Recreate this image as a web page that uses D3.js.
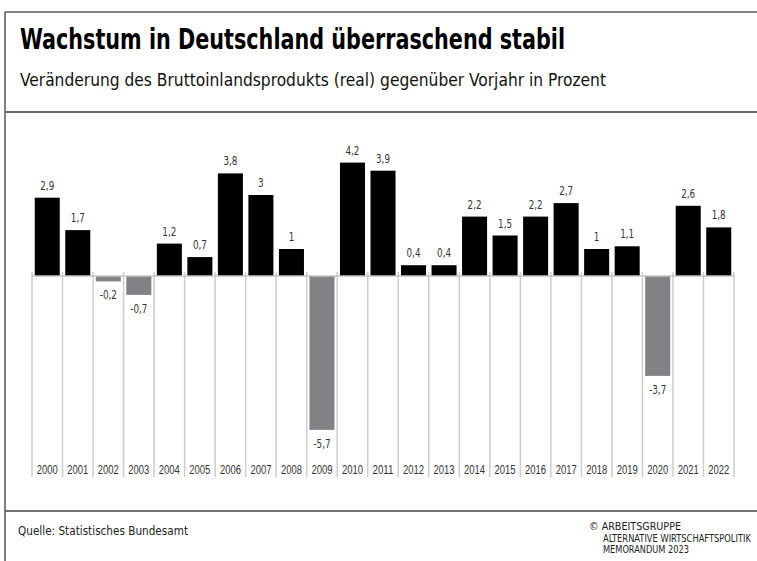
<!DOCTYPE html>
<html>
<head>
<meta charset="utf-8">
<script src="https://cdn.jsdelivr.net/npm/d3@7"></script>
<style>
  html, body { margin: 0; padding: 0; background: #fff; }
  svg { display: block; font-family: "Liberation Sans Narrow", "DejaVu Sans Condensed", "Roboto", sans-serif; }
</style>
</head>
<body>
<div id="chart"></div>
<script>
// daten
const years = ['2000', '2001', '2002', '2003', '2004', '2005', '2006', '2007', '2008', '2009', '2010', '2011',
  '2012', '2013', '2014', '2015', '2016', '2017', '2018', '2019', '2020', '2021', '2022'];
const values = [2.9, 1.7, -0.2, -0.7, 1.2, 0.7, 3.8, 3, 1, -5.7, 4.2, 3.9,
  0.4, 0.4, 2.2, 1.5, 2.2, 2.7, 1, 1.1, -3.7, 2.6, 1.8];
const yearLabels = years.slice();

const title = 'Wachstum in Deutschland überraschend stabil';
const subtitle = 'Veränderung des Bruttoinlandsprodukts (real) gegenüber Vorjahr in Prozent';
const source = 'Quelle: Statistisches Bundesamt';
const credit = ['© ARBEITSGRUPPE', 'ALTERNATIVE WIRTSCHAFTSPOLITIK', 'MEMORANDUM 2023'];

const width = 757;
const height = 561;

const svg = d3.select('#chart').append('svg')
  .attr('width', width)
  .attr('height', height);

svg.append('rect').attr('width', width).attr('height', height).attr('fill', '#fff');

// rahmen
const frame = svg.append('g').attr('stroke', '#555').attr('stroke-width', 1.5);
frame.append('line').attr('x1', 5).attr('x2', width).attr('y1', 12).attr('y2', 12);
frame.append('line').attr('x1', 5).attr('x2', 5).attr('y1', 12).attr('y2', height);
frame.append('line').attr('x1', 5).attr('x2', width).attr('y1', 112).attr('y2', 112).attr('stroke', '#666').attr('stroke-width', 2);
frame.append('line').attr('x1', 5).attr('x2', width).attr('y1', 511).attr('y2', 511).attr('stroke', '#444').attr('stroke-width', 1.5);

// text mit fester breite
function fitText(sel, w) {
  sel.attr('textLength', w).attr('lengthAdjust', 'spacingAndGlyphs');
  return sel;
}
// schmaler machen (kein narrow font da)
function condense(sel, k) {
  sel.each(function () {
    const w = this.getComputedTextLength();
    d3.select(this).attr('textLength', w * k).attr('lengthAdjust', 'spacingAndGlyphs');
  });
  return sel;
}
// per transform auf breite bringen
function scaledText(parent, x, y, str, w, size) {
  const gg = parent.append('g');
  const t = gg.append('text').attr('font-size', size).text(str);
  const k = w / t.node().getComputedTextLength();
  gg.attr('transform', `translate(${x},${y}) scale(${k},1)`);
  return t;
}

fitText(svg.append('text')
  .attr('x', 20).attr('y', 49)
  .attr('font-size', 29)
  .attr('font-weight', 'bold')
  .attr('fill', '#000')
  .text(title), 545);

fitText(svg.append('text')
  .attr('x', 20).attr('y', 86)
  .attr('font-size', 18)
  .attr('fill', '#111')
  .text(subtitle), 586);

// skalen
const grid = d3.scaleBand().domain(years).range([32, 734]).padding(0);
const x = d3.scaleBand().domain(years).range([32, 734]).paddingInner(0.18).paddingOuter(0.09);
const y = d3.scaleLinear().domain([-7, 6]).range([465, 114]);
const y0 = y(0);

const g = svg.append('g');

// gitterlinien
const gridPos = years.map(d => grid(d)).concat([grid.range()[1]]);
g.selectAll('.grid')
  .data(gridPos)
  .join('line')
  .attr('class', 'grid')
  .attr('x1', d => d).attr('x2', d => d)
  .attr('y1', y0 - 4).attr('y2', 477)
  .attr('stroke', '#cdcdcd')
  .attr('stroke-width', 1.5);

// balken
g.selectAll('.bar')
  .data(years.map((d, i) => ({ year: d, value: values[i] })))
  .join('rect')
  .attr('class', 'bar')
  .attr('x', d => x(d.year))
  .attr('width', x.bandwidth())
  .attr('y', d => Math.min(y(d.value), y0))
  .attr('height', d => Math.abs(y(d.value) - y0))
  .attr('fill', d => d.value < 0 ? '#818285' : '#000');

// nulllinie
g.append('line')
  .attr('x1', 32).attr('x2', 734)
  .attr('y1', y0).attr('y2', y0)
  .attr('stroke', '#c4c4c4')
  .attr('stroke-width', 1.5);

// werte
const fmt = v => String(v).replace('.', ',');
const vals = g.selectAll('.val')
  .data(years.map((d, i) => ({ year: d, value: values[i] })))
  .join('text')
  .attr('class', 'val')
  .attr('x', d => x(d.year) + x.bandwidth() / 2)
  .attr('y', d => d.value < 0 ? y(d.value) + 18 : y(d.value) - 8)
  .attr('text-anchor', 'middle')
  .attr('font-size', 12.5)
  .attr('fill', '#333')
  .text(d => fmt(d.value));
condense(vals, 0.78);

// jahresachse
const axis = g.append('g')
  .attr('transform', 'translate(0,474)')
  .call(d3.axisBottom(grid).tickSize(0).tickFormat((d, i) => yearLabels[i]));
axis.select('.domain').remove();
const yl = axis.selectAll('text')
  .attr('y', 0).attr('dy', 0)
  .attr('font-size', 12)
  .attr('font-family', null)
  .attr('fill', '#333');
fitText(yl, 21);

// fusszeile
fitText(svg.append('text')
  .attr('x', 18).attr('y', 535)
  .attr('font-size', 13)
  .attr('fill', '#222')
  .text(source), 170);

const cr = svg.append('g').attr('fill', '#222');
scaledText(cr, 589, 530, credit[0], 92, 11);
scaledText(cr, 603, 541.5, credit[1], 148, 11);
scaledText(cr, 603, 553, credit[2], 86, 11);
</script>
</body>
</html>
